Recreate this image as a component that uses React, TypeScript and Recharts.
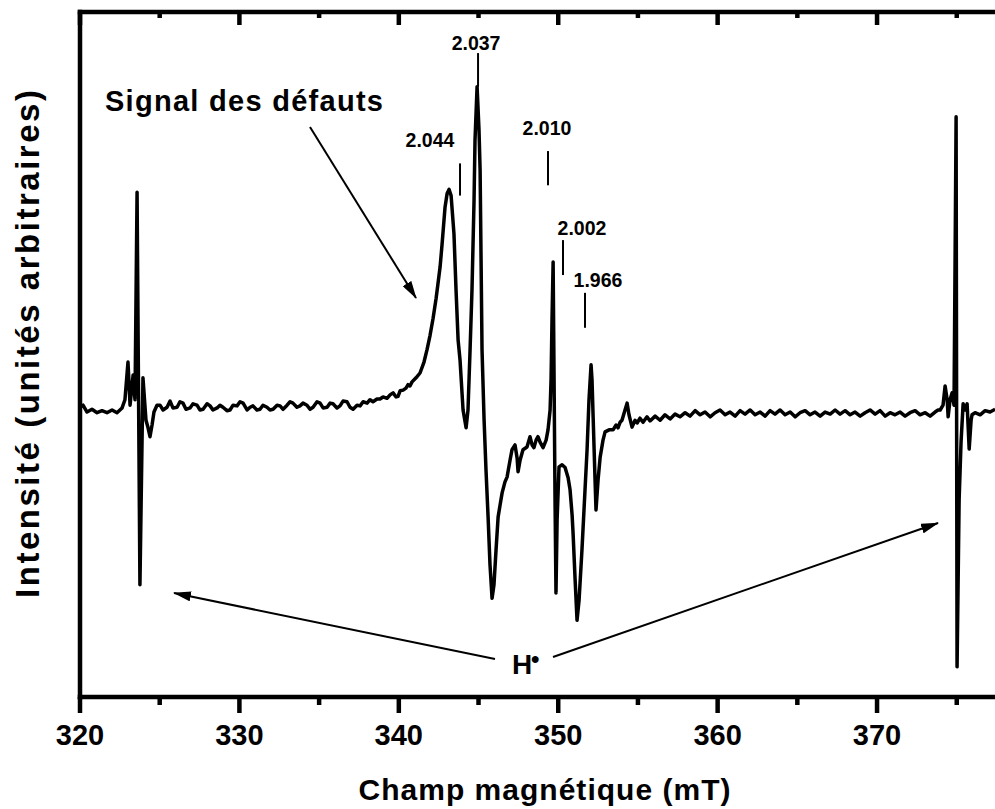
import { LineChart, Line, XAxis, YAxis, ReferenceLine } from 'recharts'

const FONT = "'Liberation Sans', Arial, Helvetica, sans-serif"

// [field (mT), intensity (arb. units, baseline ~ 0)]
const baselineLeft: [number, number][] = [
  [320.0, 0.3], [320.19, 0.6], [320.44, -0.4], [320.75, 0.0], [321.07, -0.5], [321.38, -0.2],
  [321.69, -0.5], [322.01, -0.1], [322.32, -0.5], [322.64, 0.2], [322.82, 1.4],
]

const hydrogenLow: [number, number][] = [
  [323.01, 6.9], [323.14, 0.6], [323.33, 5.0], [323.45, 1.4], [323.58, 31.7], [323.76, -25.6],
  [323.95, 4.6], [324.14, -1.6], [324.27, -2.7], [324.39, -4.0], [324.52, -2.3], [324.64, -0.4],
  [324.83, 0.6],
]

const baselineMid: [number, number][] = [
  [325.02, 0.6], [325.21, -0.1], [325.46, 0.3], [325.65, 1.2], [325.83, 0.2], [326.09, 0.3],
  [326.27, 1.1], [326.46, 0.9], [326.65, 0.0], [326.9, 0.2], [327.09, 0.8], [327.34, 0.6],
  [327.53, -0.1], [327.72, 0.0], [327.97, 0.8], [328.16, 0.5], [328.34, -0.1], [328.6, 0.2],
  [328.78, 0.6], [328.97, 0.3], [329.22, -0.2], [329.41, -0.1], [329.6, 0.6], [329.85, 0.5],
  [330.04, 1.1], [330.23, 0.9], [330.48, -0.1], [330.67, 0.3], [330.85, 0.5], [331.1, -0.1],
  [331.29, 0.0], [331.48, 0.6], [331.73, 0.3], [331.92, -0.1], [332.11, 0.0], [332.36, 0.6],
  [332.55, 0.5], [332.74, 0.0], [332.99, 0.6], [333.18, 1.1], [333.36, 0.9], [333.61, 0.3],
  [333.8, 0.5], [333.99, 0.9], [334.24, 0.6], [334.43, 0.0], [334.62, 0.3], [334.87, 1.1],
  [335.06, 0.9], [335.25, 0.2], [335.5, 0.3], [335.69, 0.9], [335.87, 0.8], [336.12, 0.2],
  [336.31, 0.5], [336.5, 1.2], [336.75, 1.1], [336.94, 0.3], [337.13, 0.0], [337.38, 0.6],
  [337.57, 0.5], [337.76, 1.1], [338.01, 0.9], [338.19, 1.4], [338.38, 1.1], [338.63, 1.5],
  [338.82, 1.5], [339.01, 1.8], [339.26, 1.6], [339.45, 2.1], [339.64, 2.4], [339.83, 1.8],
  [339.95, 1.9],
]

const defectSignal: [number, number][] = [
  [340.08, 2.7], [340.27, 2.8], [340.45, 3.1], [340.58, 3.6], [340.7, 3.4], [340.83, 4.0],
  [341.08, 4.6], [341.33, 5.3], [341.58, 6.9], [341.77, 8.7], [341.96, 10.8], [342.15, 13.3],
  [342.34, 16.2], [342.46, 18.4], [342.59, 20.8], [342.71, 24.0], [342.9, 29.5], [343.03, 31.5],
  [343.15, 32.1], [343.28, 31.2], [343.46, 25.6], [343.59, 17.4], [343.72, 10.1], [343.84, 7.2],
  [344.03, -0.1], [344.22, -2.7], [344.34, -0.1], [344.47, 8.7], [344.59, 17.4], [344.72, 30.6],
  [344.78, 39.3], [344.91, 47.1], [345.03, 40.8], [345.1, 34.9], [345.16, 21.8], [345.22, 8.7],
  [345.35, -1.6], [345.47, -8.9], [345.6, -15.7], [345.72, -22.7], [345.85, -27.6], [345.97, -25.6],
  [346.1, -20.5], [346.23, -15.7], [346.35, -14.0], [346.48, -12.2], [346.66, -10.6], [346.79, -9.9],
  [346.98, -7.4], [347.1, -5.9], [347.29, -5.2], [347.42, -7.1], [347.48, -9.1], [347.61, -7.4],
  [347.79, -5.9], [348.04, -5.5], [348.23, -4.0], [348.36, -5.2], [348.48, -5.6], [348.61, -4.5],
  [348.73, -4.0], [348.86, -4.8], [349.05, -5.6], [349.24, -4.5], [349.36, -3.0], [349.49, -0.1],
  [349.55, 4.3], [349.61, 13.0], [349.68, 21.5], [349.74, 4.3], [349.8, -13.2], [349.86, -26.8],
  [349.93, -16.1], [350.05, -8.4], [350.24, -8.1], [350.43, -8.5], [350.62, -10.0], [350.74, -11.7],
  [350.87, -15.4], [350.93, -18.0], [351.06, -24.9], [351.18, -30.8], [351.31, -27.8], [351.49, -20.5],
  [351.68, -11.8], [351.81, -5.9], [351.93, 1.4], [352.06, 6.5], [352.12, 4.3], [352.19, -1.1],
  [352.31, -10.3], [352.37, -14.7], [352.5, -10.3], [352.63, -7.0], [352.81, -4.5], [352.94, -3.3],
  [353.19, -3.0], [353.44, -3.0], [353.63, -2.3], [353.75, -2.7], [353.88, -1.9], [354.0, -1.6],
  [354.19, -0.1], [354.32, 0.9], [354.44, -0.8], [354.63, -2.6], [354.82, -1.6], [354.95, -2.0],
  [355.13, -1.3], [355.32, -1.9], [355.57, -1.1], [355.76, -1.7], [356.08, -1.0], [356.39, -1.6],
  [356.7, -0.8], [357.02, -1.4], [357.33, -0.7], [357.64, -1.1],
]

const baselineHigh: [number, number][] = [
  [357.96, -0.5], [358.27, -1.0], [358.59, -0.2], [358.9, -0.8], [359.21, -0.4], [359.53, -1.1],
  [359.84, -0.5], [360.15, -0.1], [360.47, -0.8], [360.78, -0.4], [361.1, -1.0], [361.41, -0.2],
  [361.72, -0.7], [362.04, -0.1], [362.35, -0.8], [362.67, -0.4], [362.98, -1.0], [363.29, -0.2],
  [363.6, -0.7], [363.92, -0.1], [364.23, -0.8], [364.55, -0.4], [364.86, -1.1], [365.17, -0.5],
  [365.49, -0.2], [365.8, -0.8], [366.11, -0.4], [366.43, -1.0], [366.74, -0.4], [367.06, -0.7],
  [367.37, -0.1], [367.68, -0.7], [368.0, -0.2], [368.31, -0.8], [368.62, -0.4], [368.94, -1.0],
  [369.25, -0.5], [369.56, -0.1], [369.88, -0.7], [370.19, -0.2], [370.51, -1.0], [370.82, -0.5],
  [371.13, -0.8], [371.45, -0.4], [371.76, -1.0], [372.07, -0.5], [372.39, -0.2], [372.7, -0.8],
  [373.02, -0.5], [373.33, -1.0], [373.64, -0.4], [373.83, -0.1],
]

const hydrogenHigh: [number, number][] = [
  [373.96, -0.1], [374.14, 0.6], [374.27, 3.4], [374.4, 1.4], [374.46, -1.1], [374.58, 1.4],
  [374.71, 2.4], [374.83, 0.6], [374.96, 42.7], [375.02, -37.6], [375.15, -13.2], [375.27, -4.8],
  [375.4, 0.8], [375.52, -0.1], [375.65, 0.8], [375.78, -5.8], [375.9, -1.6], [375.96, -0.8],
  [376.15, -0.5], [376.47, -0.8], [376.78, -0.2], [377.09, -0.4], [377.41, 0.0],
]

const fieldTicks = [320, 325, 330, 335, 340, 345, 350, 355, 360, 365, 370, 375]

// g-factor markers: label, field position, marker span in intensity
const gLabels = ['2.044', '2.037', '2.010', '2.002', '1.966']
const gFields = [343.84, 344.97, 349.36, 350.3, 351.68]
const gSpans: [number, number][] = [[31.2, 35.9], [47.1, 52.0], [32.7, 37.7], [19.6, 24.7], [11.9, 17.0]]
const gLabelOffsets: [number, number][] = [[-30, -16], [-2, -3], [-1, -16], [19, -5], [13, -6]]

const spectrum = [
  ...baselineLeft,
  ...hydrogenLow,
  ...baselineMid,
  ...defectSignal,
  ...baselineHigh,
  ...hydrogenHigh,
].map(([b, v]) => ({ b, v }))

function BottomTick({ x, y, payload }: any) {
  const major = payload.value % 10 === 0
  return (
    <g>
      <line x1={x} x2={x} y1={y} y2={y + (major ? 16 : 8)} stroke="#000" strokeWidth={4.5} />
      {major && (
        <text x={x} y={y + 48} textAnchor="middle" fontFamily={FONT} fontWeight={700} fontSize={29} fill="#000">
          {payload.value}
        </text>
      )}
    </g>
  )
}

function TopTick({ x, y, payload }: any) {
  const major = payload.value % 10 === 0
  return <line x1={x} x2={x} y1={y} y2={y + (major ? 13 : 6)} stroke="#000" strokeWidth={4.5} />
}

export default function App() {
  return (
    <div style={{ position: 'absolute', left: 0, top: 0, width: 995, height: 809, background: '#fff' }}>
      <LineChart width={995} height={809} data={spectrum} margin={{ top: 0, right: 0, bottom: 0, left: 80 }}>
        <XAxis
          dataKey="b"
          type="number"
          domain={[320, 377.4]}
          ticks={fieldTicks}
          interval={0}
          allowDataOverflow
          height={112}
          tickSize={0}
          tickMargin={0}
          tickLine={false}
          tick={<BottomTick />}
          axisLine={{ stroke: '#000', strokeWidth: 4.5, strokeLinecap: 'square' }}
          label={{
            content: ({ viewBox }: any) => (
              <text
                x={viewBox.x + viewBox.width / 2 + 7}
                y={viewBox.y + 103}
                textAnchor="middle"
                fontFamily={FONT}
                fontWeight={700}
                fontSize={30}
                textLength={372}
                lengthAdjust="spacing"
                fill="#000"
              >
                Champ magnétique (mT)
              </text>
            ),
          }}
        />
        <XAxis
          xAxisId="top"
          orientation="top"
          dataKey="b"
          type="number"
          domain={[320, 377.4]}
          ticks={fieldTicks}
          interval={0}
          allowDataOverflow
          height={12}
          tickSize={0}
          tickMargin={0}
          tickLine={false}
          tick={<TopTick />}
          axisLine={{ stroke: '#000', strokeWidth: 4.5, strokeLinecap: 'square' }}
        />
        <YAxis type="number" domain={[-42, 58]} allowDataOverflow hide />
        {gLabels.map((g, i) => (
          <ReferenceLine
            key={g}
            segment={[
              { x: gFields[i], y: gSpans[i][0] },
              { x: gFields[i], y: gSpans[i][1] },
            ]}
            stroke="#000"
            strokeWidth={2}
            label={{
              content: ({ viewBox }: any) => (
                <text
                  x={viewBox.x + gLabelOffsets[i][0]}
                  y={viewBox.y + gLabelOffsets[i][1]}
                  textAnchor="middle"
                  fontFamily={FONT}
                  fontWeight={700}
                  fontSize={19.5}
                  fill="#000"
                >
                  {g}
                </text>
              ),
            }}
          />
        ))}
        <Line
          type="linear"
          dataKey="v"
          stroke="#000"
          strokeWidth={3.5}
          strokeLinejoin="round"
          dot={false}
          activeDot={false}
          isAnimationActive={false}
        />
      </LineChart>
      <svg
        width={995}
        height={809}
        style={{ position: 'absolute', left: 0, top: 0, pointerEvents: 'none' }}
      >
        <defs>
          <marker
            id="head"
            viewBox="0 0 18 10"
            refX={17}
            refY={5}
            markerWidth={18}
            markerHeight={10}
            markerUnits="userSpaceOnUse"
            orient="auto"
          >
            <path d="M0,0 L18,5 L0,10 Z" fill="#000" />
          </marker>
        </defs>
        {/* left frame line */}
        <line x1={80} y1={12} x2={80} y2={697} stroke="#000" strokeWidth={4.5} strokeLinecap="square" />
        <text
          transform="translate(39, 344) rotate(-90)"
          textAnchor="middle"
          fontFamily={FONT}
          fontWeight={700}
          fontSize={33}
          textLength={508}
          lengthAdjust="spacing"
          fill="#000"
        >
          Intensité (unités arbitraires)
        </text>
        <text x={105} y={111} fontFamily={FONT} fontWeight={700} fontSize={29} textLength={278} lengthAdjust="spacing" fill="#000">
          Signal des défauts
        </text>
        <line x1={310} y1={127} x2={416} y2={298} stroke="#000" strokeWidth={2} markerEnd="url(#head)" />
        <line x1={495} y1={659} x2={174} y2={593} stroke="#000" strokeWidth={2} markerEnd="url(#head)" />
        <line x1={553} y1={657} x2={938} y2={523} stroke="#000" strokeWidth={2} markerEnd="url(#head)" />
        <text x={512} y={674} fontFamily={FONT} fontWeight={700} fontSize={28} fill="#000">
          H
          <tspan x={531} y={667} fontSize={24}>•</tspan>
        </text>
      </svg>
    </div>
  )
}
